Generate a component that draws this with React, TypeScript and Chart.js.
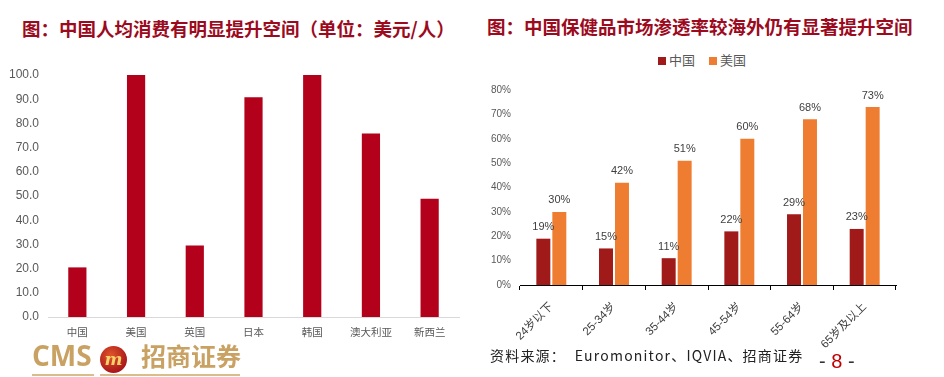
import React, { useEffect, useRef } from "react";
import { Chart, registerables } from "chart.js";
Chart.register(...registerables);

const leftCategories = ["中国", "美国", "英国", "日本", "韩国", "澳大利亚", "新西兰"];
const leftValues = [20.5, 100, 29.5, 90.8, 100, 75.8, 48.9];

const rightCategories = ["24岁以下", "25-34岁", "35-44岁", "45-54岁", "55-64岁", "65岁及以上"];
const chinaValues = [19, 15, 11, 22, 29, 23];
const usValues = [30, 42, 51, 60, 68, 73];
const seriesNames = ["中国", "美国"];
const seriesColors = ["#a11a1a", "#ee7d31"];

const FONT = "'Liberation Sans', 'Noto Sans CJK SC', sans-serif";

const valueLabelPlugin = {
  id: "valueLabels",
  afterDatasetsDraw(chart: any) {
    const ctx = chart.ctx;
    ctx.save();
    ctx.font = `11px ${FONT}`;
    ctx.fillStyle = "#404040";
    ctx.textAlign = "center";
    ctx.textBaseline = "bottom";
    chart.data.datasets.forEach((ds: any, i: number) => {
      const meta = chart.getDatasetMeta(i);
      meta.data.forEach((el: any, j: number) => {
        ctx.fillText(`${ds.data[j]}%`, el.x, el.y - 6);
      });
    });
    ctx.restore();
  },
};

const fixWidth = (w: number) => (scale: any) => {
  scale.width = w;
  scale.paddingTop = 0;
  scale.paddingBottom = 0;
};
const fixHeight = (h: number) => (scale: any) => {
  scale.height = h;
  scale.paddingLeft = 0;
  scale.paddingRight = 0;
};

export default function App() {
  const leftRef = useRef<HTMLCanvasElement>(null);
  const rightRef = useRef<HTMLCanvasElement>(null);

  useEffect(() => {
    const left = new Chart(leftRef.current!, {
      type: "bar",
      data: {
        labels: leftCategories,
        datasets: [
          {
            data: leftValues,
            backgroundColor: "#b3001b",
            barPercentage: 0.31,
            categoryPercentage: 1,
          },
        ],
      },
      options: {
        animation: false,
        responsive: false,
        layout: { padding: { left: 0, right: 11, top: 14, bottom: 4 } },
        plugins: { legend: { display: false }, tooltip: { enabled: false } },
        scales: {
          x: {
            afterFit: fixHeight(30),
            grid: { display: false, drawTicks: false },
            border: { display: true, color: "#d9d9d9" },
            ticks: { color: "#595959", font: { size: 10.5, family: FONT }, padding: 10 },
          },
          y: {
            afterFit: fixWidth(48),
            min: 0,
            max: 100,
            grid: { display: false, drawTicks: false },
            border: { display: false },
            ticks: {
              stepSize: 10,
              color: "#595959",
              font: { size: 12, family: FONT },
              padding: 9,
              callback: (v: any) => Number(v).toFixed(1),
            },
          },
        },
      },
    });

    const right = new Chart(rightRef.current!, {
      type: "bar",
      data: {
        labels: rightCategories,
        datasets: [
          {
            label: seriesNames[0],
            data: chinaValues,
            backgroundColor: seriesColors[0],
            barPercentage: 0.875,
            categoryPercentage: 0.51,
          },
          {
            label: seriesNames[1],
            data: usValues,
            backgroundColor: seriesColors[1],
            barPercentage: 0.875,
            categoryPercentage: 0.51,
          },
        ],
      },
      options: {
        animation: false,
        responsive: false,
        layout: { padding: { left: 0, right: 48, top: 9, bottom: 0 } },
        plugins: {
          legend: { display: false },
          tooltip: { enabled: false },
        },
        scales: {
          x: {
            afterFit: fixHeight(76),
            grid: {
              display: true,
              drawOnChartArea: false,
              drawTicks: true,
              tickLength: 5,
              color: "#000",
            },
            border: { display: true, color: "#000" },
            ticks: {
              color: "#404040",
              font: { size: 11.5, family: FONT },
              minRotation: 45,
              maxRotation: 45,
              padding: 10,
            },
          },
          y: {
            afterFit: fixWidth(42),
            min: 0,
            max: 80,
            grid: { display: false, drawTicks: false },
            border: { display: false },
            ticks: {
              stepSize: 10,
              color: "#595959",
              font: { size: 10, family: FONT },
              padding: 9,
              callback: (v: any) => `${v}%`,
            },
          },
        },
      },
      plugins: [valueLabelPlugin],
    });

    return () => {
      left.destroy();
      right.destroy();
    };
  }, []);

  const titleStyle: React.CSSProperties = {
    position: "absolute",
    fontFamily: "'Noto Sans CJK SC', sans-serif",
    fontWeight: 700,
    color: "#9c0a1e",
    whiteSpace: "nowrap",
    lineHeight: 1,
  };

  const legendText: React.CSSProperties = {
    position: "absolute",
    top: 53,
    fontFamily: "'Noto Sans CJK SC', sans-serif",
    fontSize: 13,
    color: "#595959",
    lineHeight: 1,
    whiteSpace: "nowrap",
  };

  return (
    <div
      style={{
        position: "fixed",
        left: 0,
        top: 0,
        width: 944,
        height: 377,
        background: "#fff",
        overflow: "hidden",
      }}
    >
      <div style={{ ...titleStyle, left: 22, top: 19, fontSize: 18.5 }}>
        图：中国人均消费有明显提升空间（单位：美元/人）
      </div>
      <div style={{ ...titleStyle, left: 487, top: 17, fontSize: 18.5 }}>
        图：中国保健品市场渗透率较海外仍有显著提升空间
      </div>
      {/* Legend */}
      <div style={{ position: "absolute", left: 658, top: 57, width: 8, height: 8, background: seriesColors[0] }} />
      <div style={{ ...legendText, left: 669 }}>{seriesNames[0]}</div>
      <div style={{ position: "absolute", left: 709, top: 57, width: 8, height: 8, background: seriesColors[1] }} />
      <div style={{ ...legendText, left: 720 }}>{seriesNames[1]}</div>

      <canvas
        ref={leftRef}
        width={470}
        height={290}
        style={{ position: "absolute", left: 0, top: 61, width: 470, height: 290 }}
      />
      <canvas
        ref={rightRef}
        width={466}
        height={280}
        style={{ position: "absolute", left: 478, top: 81, width: 466, height: 280 }}
      />
      {/* Logo */}
      <div
        style={{
          position: "absolute",
          left: 32,
          top: 341,
          fontFamily: "'Open Sans', 'Liberation Sans', sans-serif",
          fontWeight: 700,
          fontSize: 28,
          color: "#c9a263",
          lineHeight: 1,
        }}
      >
        CMS
      </div>
      <div
        style={{
          position: "absolute",
          left: 100,
          top: 346,
          width: 27,
          height: 27,
          borderRadius: "50%",
          background: "radial-gradient(circle at 40% 35%, #e0552a, #a8141a 75%)",
          color: "#f6d36a",
          fontFamily: "'DejaVu Serif', serif",
          fontStyle: "italic",
          fontWeight: 700,
          fontSize: 17,
          textAlign: "center",
          lineHeight: "26px",
        }}
      >
        m
      </div>
      <div
        style={{
          position: "absolute",
          left: 141,
          top: 343,
          fontFamily: "'Noto Sans CJK SC', sans-serif",
          fontWeight: 700,
          fontSize: 25,
          color: "#c9a263",
          lineHeight: 1,
          whiteSpace: "nowrap",
        }}
      >
        招商证券
      </div>
      <div style={{ position: "absolute", left: 32, top: 374, width: 62, height: 2, background: "#d9bd8a" }} />
      <div style={{ position: "absolute", left: 100, top: 374, width: 140, height: 2, background: "#d9bd8a" }} />
      {/* Source */}
      <div
        style={{
          position: "absolute",
          left: 490,
          top: 348,
          fontFamily: "'Noto Sans CJK SC', sans-serif",
          fontSize: 14,
          color: "#222",
          whiteSpace: "nowrap",
          lineHeight: 1,
          letterSpacing: 1.2,
        }}
      >
        资料来源：&nbsp;&nbsp;Euromonitor、IQVIA、招商证券
      </div>
      <div
        style={{
          position: "absolute",
          left: 819,
          top: 351,
          fontFamily: "'Liberation Sans', sans-serif",
          fontSize: 20,
          color: "#333",
          whiteSpace: "nowrap",
          lineHeight: 1,
        }}
      >
        - <span style={{ color: "#c00000" }}>8</span> -
      </div>
    </div>
  );
}
